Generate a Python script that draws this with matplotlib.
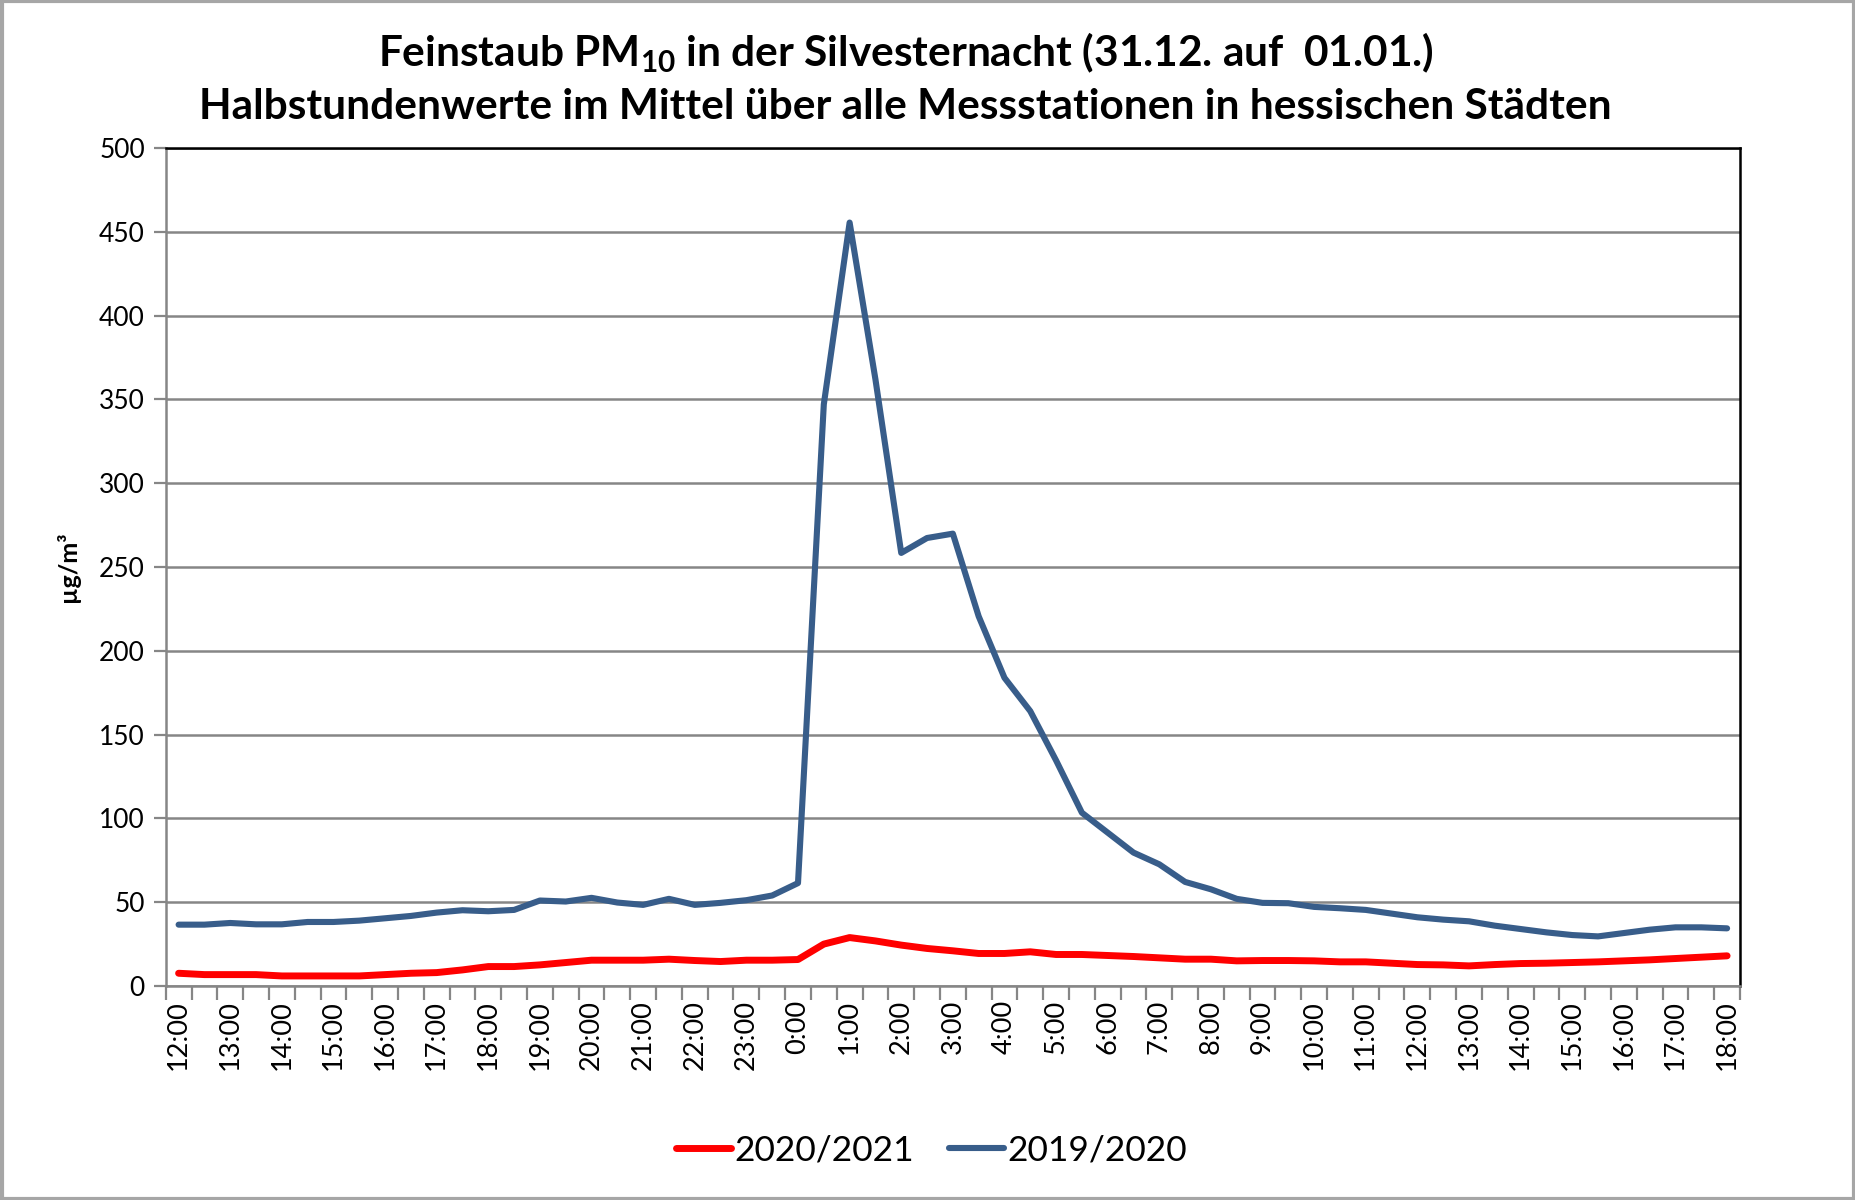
import matplotlib
matplotlib.use("Agg")
import matplotlib.pyplot as plt
from matplotlib.patches import Rectangle
import numpy as np

plt.rcParams['font.family'] = ['Lato', 'DejaVu Sans']
plt.rcParams['mathtext.fontset'] = 'custom'
plt.rcParams['mathtext.rm'] = 'Lato'
plt.rcParams['mathtext.bf'] = 'Lato:bold'

hour_labels = ["12:00", "13:00", "14:00", "15:00", "16:00", "17:00", "18:00",
               "19:00", "20:00", "21:00", "22:00", "23:00", "0:00", "1:00",
               "2:00", "3:00", "4:00", "5:00", "6:00", "7:00", "8:00", "9:00",
               "10:00", "11:00", "12:00", "13:00", "14:00", "15:00", "16:00",
               "17:00", "18:00"]

series_2019 = [36.6, 36.6, 37.6, 36.8, 36.8, 38.2, 38.2, 39.0, 40.4, 41.8,
               43.8, 45.2, 44.6, 45.4, 51.0, 50.4, 52.6, 49.8, 48.4, 52.0,
               48.4, 49.6, 51.2, 54.0, 61.4, 347, 455.5, 362, 258.4, 267.3,
               269.9, 220.6, 183.9, 164, 134.6, 103.4, 91.5, 79.6, 72.6, 62.1,
               57.7, 52.0, 49.6, 49.4, 47.2, 46.4, 45.4, 43.2, 41.0, 39.6,
               38.6, 36.0, 34.0, 32.0, 30.4, 29.6, 31.6, 33.6, 35.0, 35.0, 34.4]

series_2020 = [7.6, 6.8, 6.8, 6.8, 6.0, 6.0, 6.0, 6.0, 6.8, 7.6,
               8.0, 9.6, 11.6, 11.6, 12.6, 14.0, 15.4, 15.4, 15.4, 16.0,
               15.2, 14.6, 15.4, 15.4, 15.8, 25.0, 28.9, 26.9, 24.4, 22.4,
               21.0, 19.4, 19.4, 20.4, 18.8, 18.8, 18.2, 17.6, 16.8, 16.0,
               16.0, 15.0, 15.2, 15.2, 15.0, 14.4, 14.4, 13.6, 12.8, 12.6,
               12.0, 12.8, 13.4, 13.6, 14.0, 14.4, 15.0, 15.6, 16.4, 17.2, 18.0]

legend_labels = ["2020/2021", "2019/2020"]
y_ticks = [0, 50, 100, 150, 200, 250, 300, 350, 400, 450, 500]

W, H = 1856, 1200
fig = plt.figure(figsize=(W / 100, H / 100), dpi=100)

ax = fig.add_axes([165.7 / W, 1 - 986 / H, (1740 - 165.7) / W, (986 - 148) / H])

x = np.arange(len(series_2019))
grid_col = '#868686'

ax.set_ylim(0, 500)
ax.set_xlim(-0.5, len(x) - 0.5)
ax.set_yticks(y_ticks)
ax.yaxis.grid(True, color=grid_col, linewidth=1.8)
ax.set_axisbelow(True)

l1, = ax.plot(x, series_2020, color='#FF0000', linewidth=5.0, solid_joinstyle='round',
              solid_capstyle='round', zorder=3)
l2, = ax.plot(x, series_2019, color='#385D8A', linewidth=4.4, solid_joinstyle='round',
              solid_capstyle='round', zorder=4)

ax.set_xticks(x[::2])
ax.set_xticklabels(hour_labels, rotation=90, fontsize=19.5)
ax.set_xticks(np.arange(-0.5, len(x), 1.0), minor=True)
ax.tick_params(axis='x', which='major', length=0, pad=10)
ax.tick_params(axis='x', which='minor', length=10, width=1.6, color=grid_col)
ax.tick_params(axis='y', which='major', length=9, width=1.6, color=grid_col,
               labelsize=19, pad=6)

for s in ['left', 'bottom']:
    ax.spines[s].set_color(grid_col)
    ax.spines[s].set_linewidth(1.8)
for s in ['top', 'right']:
    ax.spines[s].set_color('black')
    ax.spines[s].set_linewidth(1.8)

ax.set_ylabel("µg/m³", fontsize=18, fontweight='bold', labelpad=14)

fig.text(0.488, 1 - 53 / H,
         r"Feinstaub PM$_{\mathbf{10}}$ in der Silvesternacht (31.12. auf  01.01.)",
         ha='center', va='center', fontsize=30.5, fontweight='bold')
fig.text(0.488, 1 - 107 / H,
         "Halbstundenwerte im Mittel über alle Messstationen in hessischen Städten",
         ha='center', va='center', fontsize=30.5, fontweight='bold')

fig.legend([l1, l2], legend_labels, loc='center', bbox_to_anchor=(0.502, 1 - 1150 / H),
           ncol=2, frameon=False, fontsize=25.5, handlelength=1.55, columnspacing=1.0,
           handletextpad=0.1)

fig.patches.append(Rectangle((0.001, 0.001), 0.998, 0.998, transform=fig.transFigure,
                             fill=False, edgecolor='#A6A6A6', linewidth=3))

fig.savefig("out.png", dpi=100)
